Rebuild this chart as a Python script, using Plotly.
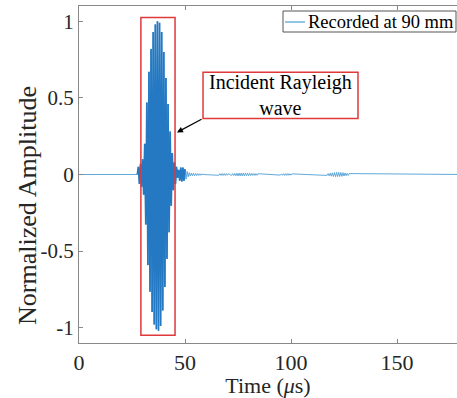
import plotly.graph_objects as go

# Peak (half-cycle) amplitudes, in time order (µs)
burst_t = [28.0, 28.5, 29.0, 29.5, 30.0, 30.5, 31.0, 31.5, 32.0, 32.5, 33.0, 33.5,
           34.0, 34.5, 35.0, 35.5, 36.0, 36.5, 37.0, 37.5, 38.0, 38.5, 39.0, 39.5,
           40.0, 40.5, 41.0, 41.5, 42.0, 42.5, 43.0, 43.5, 44.0, 44.5, 45.0, 45.5, 46.0]
burst_a = [0.05, 0.06, 0.07, 0.08, 0.10, 0.13, 0.20, 0.32, 0.47, 0.58, 0.67, 0.75,
           0.82, 0.88, 0.93, 0.96, 0.98, 0.99, 1.00, 1.00, 0.99, 0.97, 0.93, 0.87,
           0.80, 0.72, 0.63, 0.54, 0.46, 0.37, 0.28, 0.20, 0.14, 0.10, 0.08, 0.06, 0.05]
tail_t = [46.5, 47.0, 47.5, 48.0, 48.5, 49.0, 49.5, 50.0, 50.5, 51.0, 51.5, 52.0,
          52.5, 53.0, 53.5, 54.0, 54.5, 55.0, 55.5, 56.0, 56.5, 57.0, 57.5, 58.0]
tail_a = [0.02, 0.03, 0.04, 0.045, 0.045, 0.045, 0.04, 0.035, 0.03, 0.02, 0.015, 0.012,
          0.01, 0.009, 0.008, 0.008, 0.008, 0.007, 0.007, 0.006, 0.006, 0.005, 0.005, 0.004]
bump_t = [66, 67, 68, 69, 70, 72, 73, 74, 75, 76, 77, 78, 79, 80, 81, 82, 83, 84,
          95, 96, 97, 98, 99, 100,
          117, 118, 119, 120, 121, 122, 123, 124, 125, 126, 127]
bump_a = [0.005, 0.006, 0.006, 0.006, 0.005, 0.006, 0.007, 0.008, 0.009, 0.009, 0.009,
          0.009, 0.008, 0.008, 0.007, 0.006, 0.006, 0.005,
          0.004, 0.005, 0.006, 0.006, 0.005, 0.004,
          0.006, 0.009, 0.011, 0.013, 0.014, 0.014, 0.013, 0.012, 0.010, 0.008, 0.006]

series_name = "Recorded at 90 mm"

# assemble the recorded trace from the listed peaks (alternating polarity)
time = [0.0, 27.5]
amp = [0.0, 0.0]
sign = 1
for tt, aa in zip(burst_t + tail_t, burst_a + tail_a):
    time.append(tt)
    amp.append(sign * aa * (1.0 if sign > 0 else 1.02))
    sign = -sign
time.append(58.5); amp.append(0.0)
for tt, aa in zip(bump_t, bump_a):
    time.append(tt); amp.append(sign * aa); sign = -sign
    time.append(tt + 0.5); amp.append(sign * aa); sign = -sign
time.append(180.0); amp.append(0.0)

n_burst = 2 + len(burst_t) + 8  # points covering the main packet and first ripple

x_ticks = [0, 50, 100, 150]
y_ticks = [-1, -0.5, 0, 0.5, 1]
y_labels = ["-1", "-0.5", "0", "0.5", "1"]

font = "Liberation Serif, Times New Roman, serif"
blue = "#2579c2"
light_blue = "#4f9fd6"
red = "#e0393b"
ink = "#262626"

W, H = 457, 398
ML, MT, MB = 79, 6, 55
PW, PH = W - ML, H - MT - MB


def px(xp):
    return (xp - ML) / PW


def py(yp):
    return (H - MB - yp) / PH


fig = go.Figure()
fig.add_trace(go.Scatter(x=time, y=amp, mode="lines", name=series_name,
                         showlegend=False, line=dict(color=light_blue, width=0.9)))
fig.add_trace(go.Scatter(x=time[1:n_burst], y=amp[1:n_burst], mode="lines",
                         showlegend=False, hoverinfo="skip",
                         line=dict(color=blue, width=1.7)))

# boxed highlight and callout
fig.add_shape(type="rect", x0=29.2, x1=45.3, y0=-1.05, y1=1.025, xref="x", yref="y",
              line=dict(color=red, width=1.5))
fig.add_shape(type="rect", x0=58.5, x1=131.6, y0=0.366, y1=0.667, xref="x", yref="y",
              line=dict(color=red, width=1.5), fillcolor="white")
fig.add_annotation(x=95, y=0.517, xref="x", yref="y", text="Incident Rayleigh<br>wave",
                   showarrow=False, font=dict(family=font, size=20, color="black"))
fig.add_annotation(x=46.2, y=0.275, ax=58.5, ay=0.366, xref="x", yref="y",
                   axref="x", ayref="y", text="", showarrow=True, arrowhead=2,
                   arrowsize=1, arrowwidth=1.2, arrowcolor="black")

# legend box (MATLAB style, compact sample line)
fig.add_shape(type="rect", xref="paper", yref="paper", x0=px(283), x1=px(456),
              y0=py(32), y1=py(11), line=dict(color="#555", width=1), fillcolor="white")
fig.add_shape(type="line", xref="paper", yref="paper", x0=px(285), x1=px(305),
              y0=py(22), y1=py(22), line=dict(color=light_blue, width=1.2))
fig.add_annotation(xref="paper", yref="paper", x=px(306), y=py(22), xanchor="left",
                   yanchor="middle", text=series_name, showarrow=False,
                   font=dict(family=font, size=18.5, color="black"))

# y-axis title placed as in the reference
fig.add_annotation(xref="paper", yref="paper", x=px(27), y=py(206), xanchor="center",
                   yanchor="middle", text="Normalized Amplitude", textangle=-90,
                   showarrow=False, font=dict(family=font, size=26, color=ink))

fig.update_layout(
    width=W, height=H,
    margin=dict(l=ML, r=0, t=MT, b=MB),
    paper_bgcolor="white", plot_bgcolor="white",
    font=dict(family=font, size=21, color=ink),
    showlegend=False,
)
fig.update_xaxes(range=[0, 178.3], tickvals=x_ticks, ticks="inside", ticklen=4,
                 tickcolor="#888", showline=True, linecolor="#888", linewidth=1,
                 mirror="ticks", showgrid=False, zeroline=False, automargin=False,
                 title=dict(text="Time (<i>μ</i>s)", standoff=2,
                            font=dict(family=font, size=22, color=ink)),
                 tickfont=dict(family=font, size=22, color=ink))
fig.update_yaxes(range=[-1.1, 1.1], tickvals=y_ticks, ticktext=y_labels, ticks="inside",
                 ticklen=4, tickcolor="#888", showline=True, linecolor="#888",
                 linewidth=1, mirror=False, showgrid=False, zeroline=False,
                 automargin=False,
                 tickfont=dict(family=font, size=21, color=ink))

fig.write_html("out.html", config={"displayModeBar": False},
               post_script="document.body.style.margin='0';")
